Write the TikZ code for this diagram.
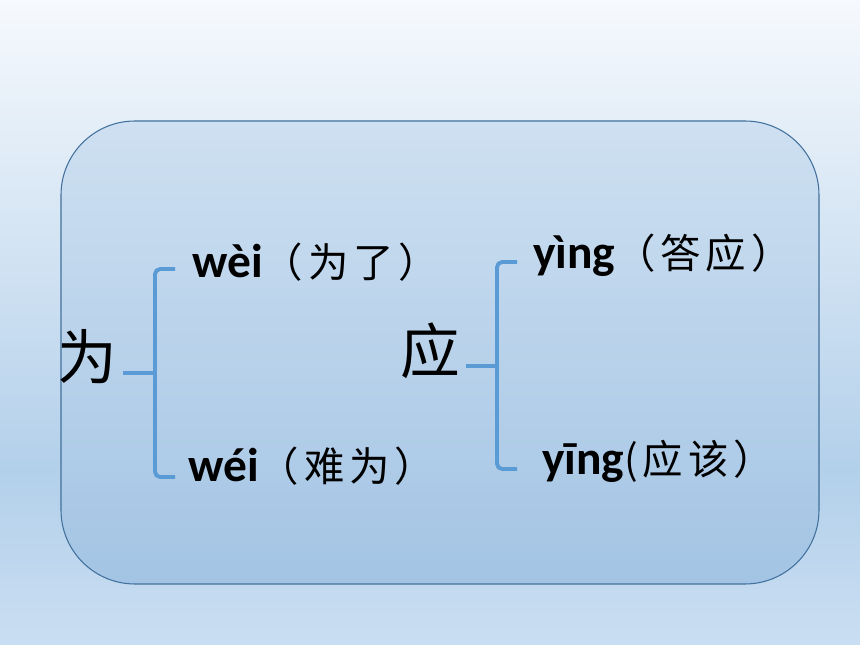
\documentclass[tikz,border=0pt]{standalone}
\usepackage{fontspec}
\setmainfont{Carlito}
\newfontfamily\kai{Noto Sans CJK SC}
\newfontfamily\kaisp{Noto Sans CJK SC}[LetterSpace=12]
\newcommand\hanzi{\kaisp\mdseries\fontsize{23}{23}\selectfont}
\usetikzlibrary{positioning}
\definecolor{bgtop}{HTML}{F6F9FD}
\definecolor{bgmid}{HTML}{B3D0EA}
\definecolor{bgbot}{HTML}{CADEF2}
\definecolor{boxtop}{HTML}{CEE0F1}
\definecolor{boxbot}{HTML}{A3C4E4}
\definecolor{boxline}{HTML}{41709C}
\definecolor{bracecol}{HTML}{5B9BD5}
\tikzset{
  zi/.style={font=\kai\fontsize{34}{34}\selectfont, inner sep=0pt},
  yin/.style={font=\fontsize{27}{27}\selectfont\bfseries, inner sep=0pt, anchor=west},
  brace/.style={draw=bracecol, line width=2.2pt, rounded corners=3pt}
}
\begin{document}
\begin{tikzpicture}[x=0.02cm, y=-0.02cm]
            % 背景
            \useasboundingbox (0, 0) rectangle (860, 645);
            \shade[top color=bgtop, bottom color=bgmid] (0, 0) rectangle (860, 470);
            \shade[top color=bgmid, bottom color=bgbot] (0, 470) rectangle (860, 645);
            % 圆角框
            \shade[top color=boxtop, bottom color=boxbot, rounded corners=74*0.02cm]
                (61, 121) rectangle (819, 584);
            \draw[boxline, line width=0.6pt, rounded corners=74*0.02cm]
                (61, 121) rectangle (819, 584);
            % 字
            \node[zi] (wei) at (87, 357) {为};
            \node[zi] (ying) at (430, 351) {应};
            \node[yin] (weiA) at (192, 262) {wèi{\hanzi （为了）}};
            \node[yin] (weiB) at (188, 466) {wéi{\hanzi （难为）}};
            \node[yin] (yingA) at (533, 255) {yìng{\hanzi （答应）}};
            \node[yin] (yingB) at (542, 461) {yīng{\hanzi (应该）}};
            % 括号
            \coordinate (WA) at (175, 269);
            \coordinate (WB) at (175, 477);
            \coordinate (WM) at (155, 373);
            \coordinate (YA) at (517, 262);
            \coordinate (YB) at (517, 469);
            \coordinate (YM) at (497, 366);
            \draw[brace] (wei.east |- WM) ++(6, 0) -- (WM);
            \draw[brace] (WA) -| (WM) |- (WB);
            \draw[brace] (ying.east |- YM) ++(6, 0) -- (YM);
            \draw[brace] (YA) -| (YM) |- (YB);
\end{tikzpicture}
\end{document}
